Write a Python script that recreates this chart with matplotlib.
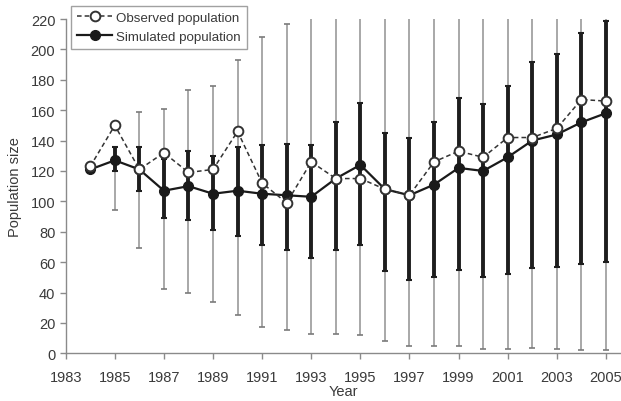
import matplotlib
matplotlib.use('Agg')
import matplotlib.pyplot as plt
import numpy as np

plt.rcParams['font.family'] = ['Liberation Sans', 'DejaVu Sans']

years = np.arange(1984, 2006)

observed = [123, 150, 121, 132, 119, 121, 146, 112, 99, 126, 115, 115,
            108, 104, 126, 133, 129, 142, 142, 148, 167, 166]
simulated = [121, 127, 121, 107, 110, 105, 107, 105, 104, 103, 115, 124,
             108, 104, 111, 122, 120, 129, 140, 144, 152, 158]

# wide range (thin grey bars)
range_low = [121, 94, 69, 42, 40, 34, 25, 17, 15, 13, 13, 12,
             8, 5, 5, 5, 3, 3, 3.5, 3, 2.3, 2]
range_high = [121, 136, 159, 161, 173, 176, 193, 208, 217, 240, 240, 240,
              240, 240, 240, 240, 240, 240, 240, 240, 240, 240]

# narrow range (thick black bars)
sd_low = [121, 120, 107, 89, 88, 81, 77, 71, 68, 63, 68, 71,
          54, 48, 50, 55, 50, 52, 56, 57, 59, 60]
sd_high = [121, 136, 136, 128, 133, 130, 136, 137, 138, 137, 152, 165,
           145, 142, 152, 168, 164, 176, 192, 197, 211, 219]

txt = '#3a3a3a'
fig = plt.figure(figsize=(6.21, 4.02), dpi=100)
ax = fig.add_axes([0.1058, 0.1187, 0.894, 0.8315])

ax.vlines(years, range_low, range_high, color='#9a9a9a', lw=1.2, zorder=1)
ax.plot(years, range_low, ls='none', marker='_', ms=5, mew=1.2, color='#7a7a7a', zorder=1)
ax.plot(years, range_high, ls='none', marker='_', ms=5, mew=1.2, color='#7a7a7a', zorder=1)

ax.vlines(years, sd_low, sd_high, color='#1e1e1e', lw=2.8, zorder=2)
ax.plot(years, sd_low, ls='none', marker='_', ms=5, mew=1.5, color='#1e1e1e', zorder=2)
ax.plot(years, sd_high, ls='none', marker='_', ms=5, mew=1.5, color='#1e1e1e', zorder=2)

ax.plot(years, observed, ls=(0, (3, 2)), lw=1.1, color='#333333', marker='o', ms=7,
        mfc='white', mec='#333333', mew=1.4, label='Observed population', zorder=4)
ax.plot(years, simulated, ls='-', lw=1.6, color='#1a1a1a', marker='o', ms=7,
        mfc='#1a1a1a', mec='#1a1a1a', label='Simulated population', zorder=3)

ax.set_xlim(1983, 2005.61)
ax.set_ylim(0, 220)
ax.set_xticks(np.arange(1983, 2006, 2))
ax.set_yticks(np.arange(0, 221, 20))

for side in ['top', 'right']:
    ax.spines[side].set_visible(False)
for side in ['left', 'bottom']:
    ax.spines[side].set_color('#8a8a8a')
    ax.spines[side].set_linewidth(1.0)
ax.tick_params(colors='#8a8a8a', labelcolor=txt, labelsize=10.5, length=4, width=1.0)
ax.tick_params(axis='x', pad=8)

ax.set_xlabel('Year', fontsize=10.5, color=txt, labelpad=0)
ax.set_ylabel('Population size', fontsize=10.5, color=txt, labelpad=6)

leg = ax.legend(loc='upper left', bbox_to_anchor=(-0.002, 1.06), fontsize=9.6,
                frameon=True, fancybox=False, handlelength=2.6, borderpad=0.45,
                labelspacing=0.5, handletextpad=0.3)
leg.get_frame().set_edgecolor('#8a8a8a')
leg.get_frame().set_linewidth(1.0)
for t in leg.get_texts():
    t.set_color(txt)

fig.savefig('out.png', dpi=100)
